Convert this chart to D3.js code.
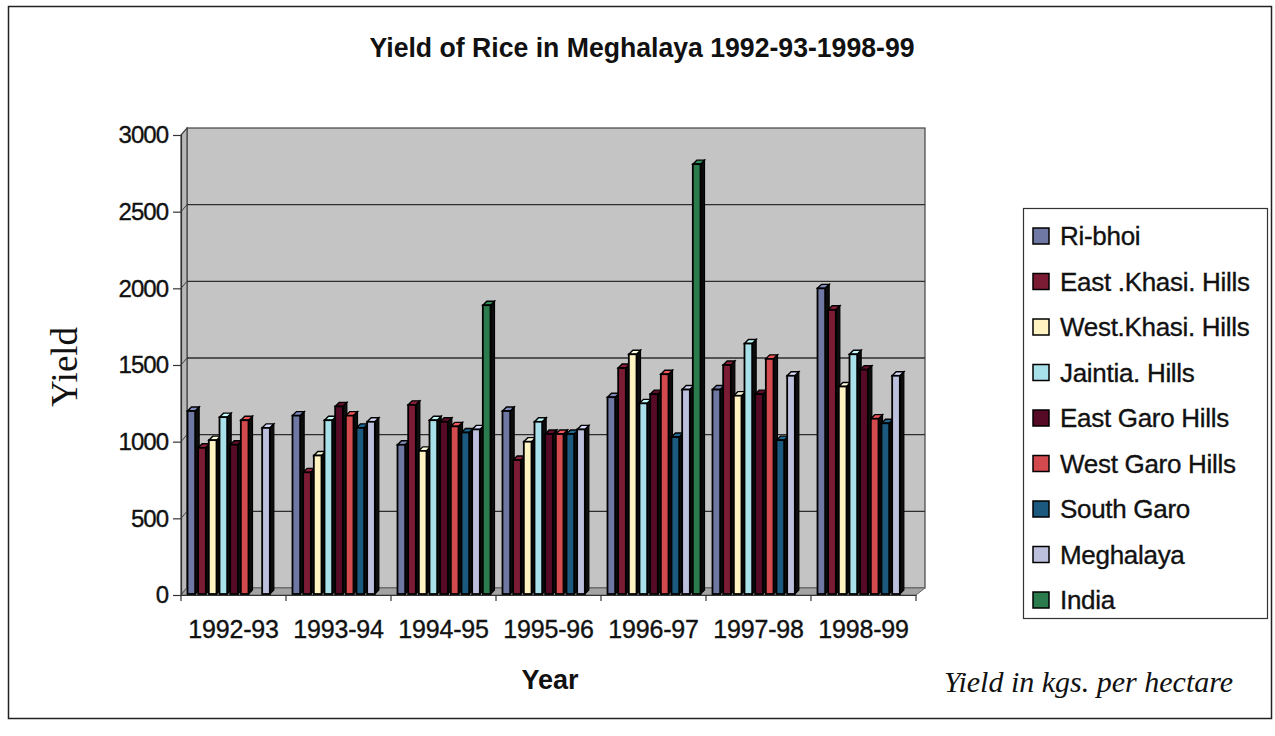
<!DOCTYPE html>
<html>
<head>
<meta charset="utf-8">
<script src="https://cdn.jsdelivr.net/npm/d3@7"></script>
<style>
  html, body { margin: 0; padding: 0; background: #fff; }
  svg { display: block; }
  text { font-family: "Liberation Sans", Arial, sans-serif; fill: #111; }
  .ink { stroke: #111; stroke-width: 0.35px; }
</style>
</head>
<body>
<svg id="chart" width="1275" height="736"></svg>
<script>
// Rice yield (kg per hectare) by district, 1992-93 to 1998-99
const years = ["1992-93", "1993-94", "1994-95", "1995-96", "1996-97", "1997-98", "1998-99"];
const seriesNames = ["Ri-bhoi", "East .Khasi. Hills", "West.Khasi. Hills", "Jaintia. Hills",
  "East Garo Hills", "West Garo Hills", "South Garo", "Meghalaya", "India"];
const riBhoi     = [1200, 1170,  980, 1200, 1290, 1340, 2000];
const eastKhasi  = [ 960,  800, 1240,  880, 1480, 1500, 1860];
const westKhasi  = [1010,  910,  940, 1000, 1570, 1300, 1360];
const jaintia    = [1160, 1140, 1140, 1130, 1250, 1640, 1570];
const eastGaro   = [ 980, 1230, 1130, 1050, 1310, 1310, 1470];
const westGaro   = [1140, 1170, 1100, 1050, 1440, 1540, 1150];
const southGaro  = [null, 1090, 1060, 1050, 1030, 1010, 1120];
const meghalaya  = [1090, 1130, 1080, 1080, 1340, 1430, 1430];
const india      = [null, null, 1890, null, 2810, null, null];
const yTicks = [0, 500, 1000, 1500, 2000, 2500, 3000];
const seriesColors = ["#6f78a2", "#7c1c34", "#fff3c2", "#a9e1ea", "#560a26",
  "#d24a4e", "#1b5a7e", "#bcc0dc", "#2a7c4c"];

const seriesValues = [riBhoi, eastKhasi, westKhasi, jaintia, eastGaro, westGaro, southGaro, meghalaya, india];

const svg = d3.select("#chart");

// outer frame
svg.append("rect").attr("x", 8.5).attr("y", 6.5).attr("width", 1263).attr("height", 712)
  .attr("fill", "none").attr("stroke", "#222").attr("stroke-width", 1.5);

// plot geometry
const plotLeft = 181, plotRight = 916, plotTop = 135, plotBottom = 595;
const depthX = 6, depthY = -7;

const y = d3.scaleLinear().domain([0, 3000]).range([plotBottom, plotTop]);
const x0 = d3.scaleBand().domain(years).range([plotLeft, plotRight]).paddingInner(0).paddingOuter(0);
const x1 = d3.scaleBand().domain(seriesNames).range([4.5, x0.bandwidth() - 4.5]).padding(0);

// back wall
svg.append("rect")
  .attr("x", plotLeft + depthX).attr("y", plotTop + depthY)
  .attr("width", plotRight - plotLeft + 3).attr("height", plotBottom - plotTop)
  .attr("fill", "#c4c4c4").attr("stroke", "#444").attr("stroke-width", 1.2);

// left wall
svg.append("path")
  .attr("d", `M${plotLeft},${plotTop}L${plotLeft + depthX},${plotTop + depthY}L${plotLeft + depthX},${plotBottom + depthY}L${plotLeft},${plotBottom}Z`)
  .attr("fill", "#b8b8b8").attr("stroke", "#444").attr("stroke-width", 1.2);

// floor
svg.append("path")
  .attr("d", `M${plotLeft},${plotBottom}L${plotRight},${plotBottom}L${plotRight + depthX + 3},${plotBottom + depthY}L${plotLeft + depthX},${plotBottom + depthY}Z`)
  .attr("fill", "#a4a4a4").attr("stroke", "#666").attr("stroke-width", 1);

// gridlines on back and left walls
const inner = yTicks.filter(t => t > 0 && t < 3000);
const grid = svg.append("g");
grid.selectAll("line.gb").data(inner).join("line").attr("class", "gb")
  .attr("x1", plotLeft + depthX).attr("x2", plotRight + depthX + 3)
  .attr("y1", d => y(d) + depthY).attr("y2", d => y(d) + depthY)
  .attr("stroke", "#2e2e2e").attr("stroke-width", 1.4);
grid.selectAll("line.gl").data(inner).join("line").attr("class", "gl")
  .attr("x1", plotLeft).attr("x2", plotLeft + depthX)
  .attr("y1", d => y(d)).attr("y2", d => y(d) + depthY)
  .attr("stroke", "#444").attr("stroke-width", 1);

// bars (front face, right side and top cap)
const bd = 4; // bar depth offset
const bars = [];
years.forEach((yr, i) => {
  seriesNames.forEach((s, j) => {
    const v = seriesValues[j][i];
    if (v != null) bars.push({ year: yr, series: s, value: v, color: seriesColors[j] });
  });
});
const bx = d => x0(d.year) + x1(d.series) + 2;
const bw = x1.bandwidth() - bd + 1;
const gBars = svg.append("g");
const barG = gBars.selectAll("g").data(bars).join("g");
barG.append("path") // side face
  .attr("d", d => {
    const xr = bx(d) + bw, yt = y(d.value), yb = y(0) - 1;
    return `M${xr},${yt}L${xr + bd},${yt - bd}L${xr + bd},${yb - bd}L${xr},${yb}Z`;
  })
  .attr("fill", "#0d0d0d").attr("stroke", "#000").attr("stroke-width", 1.2);
barG.append("path") // top cap
  .attr("d", d => {
    const xl = bx(d), yt = y(d.value);
    return `M${xl},${yt}L${xl + bd},${yt - bd}L${xl + bw + bd},${yt - bd}L${xl + bw},${yt}Z`;
  })
  .attr("fill", d => d3.color(d.color).brighter(0.4))
  .attr("stroke", "#000").attr("stroke-width", 1.4);
barG.append("rect") // front face
  .attr("x", d => bx(d)).attr("y", d => y(d.value))
  .attr("width", bw).attr("height", d => y(0) - 1 - y(d.value))
  .attr("fill", d => d.color).attr("stroke", "#000").attr("stroke-width", 1.8);

// y axis
const yAxis = d3.axisLeft(y).tickValues(yTicks).tickSize(8).tickPadding(5).tickFormat(d3.format("d"));
const gy = svg.append("g").attr("transform", `translate(${plotLeft},0)`).call(yAxis);
gy.select(".domain").attr("stroke", "#333").attr("stroke-width", 1.2);
gy.selectAll(".tick line").attr("stroke", "#333").attr("stroke-width", 1.2);
gy.selectAll(".tick text").attr("class", "ink").attr("font-size", 24).attr("fill", "#111")
  .attr("font-family", "Liberation Sans, Arial, sans-serif").attr("letter-spacing", -1);

// x axis
const xAxis = d3.axisBottom(x0).tickSize(0).tickPadding(25);
const gx = svg.append("g").attr("transform", `translate(0,${plotBottom})`).call(xAxis);
gx.select(".domain").attr("stroke", "#333").attr("stroke-width", 1.2);
gx.selectAll(".tick text").attr("class", "ink").attr("font-size", 25).attr("fill", "#111")
  .attr("font-family", "Liberation Sans, Arial, sans-serif").attr("letter-spacing", -0.2);
// category separators
svg.append("g").selectAll("line").data(years.concat(["end"])).join("line")
  .attr("x1", (d, i) => plotLeft + i * x0.step()).attr("x2", (d, i) => plotLeft + i * x0.step())
  .attr("y1", plotBottom).attr("y2", plotBottom + 6)
  .attr("stroke", "#333").attr("stroke-width", 1.2);

// titles
svg.append("text").attr("x", 642).attr("y", 57).attr("text-anchor", "middle")
  .attr("font-size", 27).attr("font-weight", "bold")
  .attr("textLength", 545).attr("lengthAdjust", "spacingAndGlyphs")
  .text("Yield of Rice in Meghalaya 1992-93-1998-99");
svg.append("text").attr("x", 550).attr("y", 689).attr("text-anchor", "middle")
  .attr("font-size", 27).attr("font-weight", "bold").text("Year");
svg.append("text").attr("transform", "translate(77,367) rotate(-90)").attr("text-anchor", "middle")
  .attr("font-size", 37).style("font-family", "Liberation Serif, Times New Roman, serif").text("Yield");
svg.append("text").attr("x", 944).attr("y", 692).attr("text-anchor", "start")
  .attr("font-size", 30).attr("font-style", "italic")
  .style("font-family", "Liberation Serif, Times New Roman, serif").text("Yield in kgs. per hectare");

// legend
const lg = svg.append("g");
lg.append("rect").attr("x", 1023.5).attr("y", 208.5).attr("width", 244).attr("height", 410)
  .attr("fill", "#fff").attr("stroke", "#333").attr("stroke-width", 1.2);
const items = lg.selectAll("g.item").data(seriesNames).join("g").attr("class", "item")
  .attr("transform", (d, i) => `translate(1033,${236 + i * 45.5})`);
items.append("rect").attr("x", 0).attr("y", -8).attr("width", 16).attr("height", 16)
  .attr("fill", (d, i) => seriesColors[i]).attr("stroke", "#000").attr("stroke-width", 1.5);
items.append("text").attr("class", "ink").attr("x", 27).attr("y", 0).attr("dy", "0.36em")
  .attr("font-size", 26).attr("letter-spacing", -0.3).text(d => d);
</script>
</body>
</html>
